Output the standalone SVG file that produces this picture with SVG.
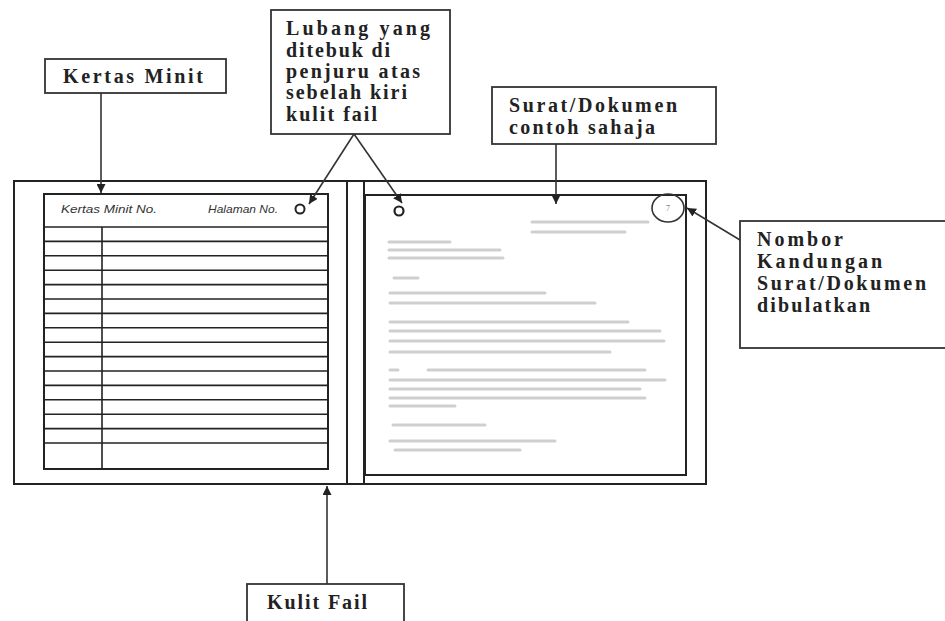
<svg xmlns="http://www.w3.org/2000/svg" width="945" height="621" viewBox="0 0 945 621">
<style>
.box{fill:#fff;stroke:#333;stroke-width:1.8}
.frame{fill:none;stroke:#222;stroke-width:2}
.rule{stroke:#222;stroke-width:1.6}
.lbl{font-family:"Liberation Serif",serif;font-weight:bold;font-size:20px;fill:#222}
.hdr{font-family:"Liberation Sans",Arial,sans-serif;font-style:italic;font-size:11px;fill:#333}
.conn{stroke:#333;stroke-width:1.6;fill:none}
.blur{stroke:#cfcfcf;stroke-width:3;stroke-linecap:round}
</style>
<defs>
<marker id="ah" viewBox="0 0 10 10" refX="10" refY="5" markerWidth="9" markerHeight="9" markerUnits="userSpaceOnUse" orient="auto">
<path d="M0,0 L10,5 L0,10 z" fill="#222"/>
</marker>
</defs>
<rect width="945" height="621" fill="#fff"/>

<g id="folder">
<rect class="frame" x="14" y="181" width="692" height="303"/>
<line class="frame" x1="347" y1="181" x2="347" y2="484"/>
<line class="frame" x1="364" y1="181" x2="364" y2="484"/>
</g>

<g id="minute-paper">
<rect class="frame" x="44" y="194" width="284" height="275"/>
<text class="hdr" x="61" y="213" textLength="96" lengthAdjust="spacingAndGlyphs">Kertas Minit No.</text>
<text class="hdr" x="208" y="213" textLength="70" lengthAdjust="spacingAndGlyphs">Halaman No.</text>
<circle cx="300" cy="209" r="4.5" fill="none" stroke="#222" stroke-width="2"/>
<g class="rule">
<line x1="44" y1="227" x2="328" y2="227"/>
<line x1="44" y1="241.4" x2="328" y2="241.4"/>
<line x1="44" y1="255.8" x2="328" y2="255.8"/>
<line x1="44" y1="270.2" x2="328" y2="270.2"/>
<line x1="44" y1="284.6" x2="328" y2="284.6"/>
<line x1="44" y1="299" x2="328" y2="299"/>
<line x1="44" y1="313.4" x2="328" y2="313.4"/>
<line x1="44" y1="327.8" x2="328" y2="327.8"/>
<line x1="44" y1="342.2" x2="328" y2="342.2"/>
<line x1="44" y1="356.6" x2="328" y2="356.6"/>
<line x1="44" y1="371" x2="328" y2="371"/>
<line x1="44" y1="385.4" x2="328" y2="385.4"/>
<line x1="44" y1="399.8" x2="328" y2="399.8"/>
<line x1="44" y1="414.2" x2="328" y2="414.2"/>
<line x1="44" y1="428.6" x2="328" y2="428.6"/>
<line x1="44" y1="443" x2="328" y2="443"/>
<line x1="102" y1="227" x2="102" y2="469"/>
</g>
</g>

<g id="letter">
<rect class="frame" x="365" y="195" width="321" height="280"/>
<circle cx="399" cy="211" r="4.5" fill="none" stroke="#222" stroke-width="2.2"/>
<ellipse cx="668" cy="208" rx="16" ry="14" fill="none" stroke="#333" stroke-width="1.6"/>
<text x="668" y="211" text-anchor="middle" font-family="Liberation Serif,serif" font-size="8" fill="#777">7</text>
<g class="blur">
<line x1="532" y1="222" x2="648" y2="222"/>
<line x1="532" y1="232" x2="625" y2="232"/>
<line x1="389" y1="242" x2="450" y2="242"/>
<line x1="389" y1="250" x2="500" y2="250"/>
<line x1="389" y1="258" x2="503" y2="258"/>
<line x1="394" y1="278" x2="418" y2="278"/>
<line x1="390" y1="293" x2="545" y2="293"/>
<line x1="390" y1="303" x2="595" y2="303"/>
<line x1="390" y1="322" x2="628" y2="322"/>
<line x1="390" y1="331" x2="660" y2="331"/>
<line x1="390" y1="341" x2="664" y2="341"/>
<line x1="390" y1="352" x2="610" y2="352"/>
<line x1="390" y1="370" x2="398" y2="370"/>
<line x1="428" y1="370" x2="645" y2="370"/>
<line x1="390" y1="380" x2="665" y2="380"/>
<line x1="390" y1="389" x2="640" y2="389"/>
<line x1="390" y1="398" x2="645" y2="398"/>
<line x1="390" y1="406" x2="455" y2="406"/>
<line x1="393" y1="425" x2="485" y2="425"/>
<line x1="390" y1="441" x2="555" y2="441"/>
<line x1="395" y1="450" x2="520" y2="450"/>
</g>
</g>

<g id="kertas-minit">
<rect class="box" x="45" y="59" width="181" height="34"/>
<text class="lbl" x="63" y="83" textLength="140" lengthAdjust="spacing">Kertas Minit</text>
</g>

<g id="lubang">
<rect class="box" x="271" y="10" width="179" height="124"/>
<text class="lbl" x="286" y="35" textLength="144" lengthAdjust="spacing">Lubang  yang</text>
<text class="lbl" x="286" y="57" textLength="104" lengthAdjust="spacing">ditebuk di</text>
<text class="lbl" x="286" y="78" textLength="134" lengthAdjust="spacing">penjuru atas</text>
<text class="lbl" x="286" y="99" textLength="121" lengthAdjust="spacing">sebelah kiri</text>
<text class="lbl" x="286" y="121" textLength="91" lengthAdjust="spacing">kulit fail</text>
</g>

<g id="surat">
<rect class="box" x="492" y="87" width="224" height="57"/>
<text class="lbl" x="509" y="112" textLength="168" lengthAdjust="spacing">Surat/Dokumen</text>
<text class="lbl" x="509" y="134" textLength="146" lengthAdjust="spacing">contoh sahaja</text>
</g>

<g id="nombor">
<rect class="box" x="740" y="221" width="215" height="127"/>
<text class="lbl" x="757" y="246" textLength="86" lengthAdjust="spacing">Nombor</text>
<text class="lbl" x="757" y="268" textLength="125" lengthAdjust="spacing">Kandungan</text>
<text class="lbl" x="757" y="290" textLength="169" lengthAdjust="spacing">Surat/Dokumen</text>
<text class="lbl" x="757" y="312" textLength="113" lengthAdjust="spacing">dibulatkan</text>
</g>

<g id="kulit-fail">
<rect class="box" x="247" y="584" width="157" height="40"/>
<text class="lbl" x="267" y="609" textLength="100" lengthAdjust="spacing">Kulit Fail</text>
</g>

<g id="connectors">
<line class="conn" x1="101" y1="93" x2="101" y2="193" marker-end="url(#ah)"/>
<line class="conn" x1="354" y1="134" x2="309" y2="204" marker-end="url(#ah)"/>
<line class="conn" x1="354" y1="134" x2="402" y2="203" marker-end="url(#ah)"/>
<line class="conn" x1="556" y1="144" x2="556" y2="204" marker-end="url(#ah)"/>
<line class="conn" x1="740" y1="240" x2="687" y2="208" marker-end="url(#ah)"/>
<line class="conn" x1="327" y1="584" x2="327" y2="486" marker-end="url(#ah)"/>
</g>
</svg>
